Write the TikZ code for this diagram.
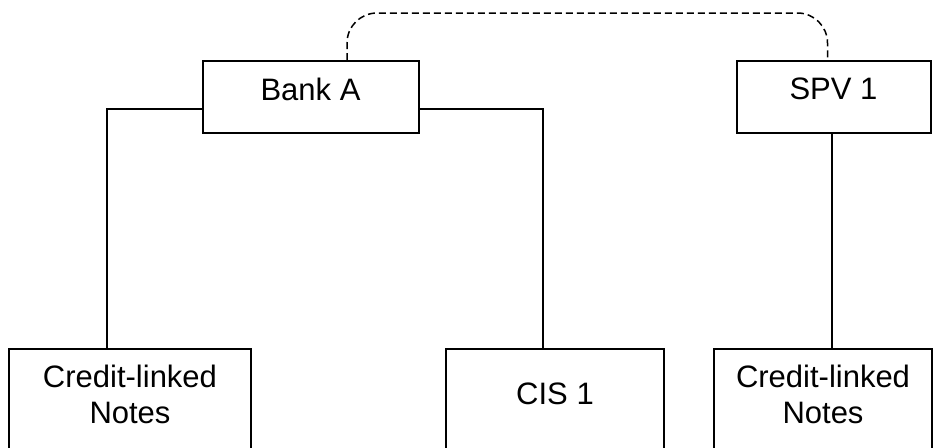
\documentclass[tikz,border=0pt]{standalone}
\usepackage{fontspec}
\setmainfont{Liberation Sans}
\usetikzlibrary{positioning}

\begin{document}
\begin{tikzpicture}[
  x=1pt, y=-1pt,
  box/.style={rectangle, draw, line width=2pt, align=center,
              inner sep=2pt, font=\fontsize{31}{36}\selectfont},
  top/.style={box, minimum height=72pt, text depth=16pt},
  low/.style={box, minimum height=100pt, text depth=10pt},
  link/.style={line width=2pt},
  tie/.style={line width=1.5pt, dash pattern=on 7pt off 4pt,
              rounded corners=30pt}]
\useasboundingbox (0,0) rectangle (934,447);
\clip (0,0) rectangle (934,447);
% top row
\node[top, minimum width=216pt] (bankA) at (310.5,97) {Bank A};
\node[top, minimum width=194pt, right=316pt of bankA] (spv1) {SPV 1};
% bottom row (cut off by the page edge)
\node[low, minimum width=242pt] (cln1) at (130,399) {Credit-linked\\ Notes};
\node[low, minimum width=218pt, right=193pt of cln1] (cis1) {CIS 1};
\node[low, minimum width=218pt, right=48pt of cis1] (cln2) {Credit-linked\\ Notes};
\coordinate (arc) at (589,13);
\draw[link] ([yshift=-12pt]bankA.west) -| ([xshift=-23pt]cln1.north);
\draw[link] ([yshift=-12pt]bankA.east) -| ([xshift=-12pt]cis1.north);
\draw[link] ([xshift=-1.5pt]spv1.south) -- ([xshift=-1.5pt]spv1.south |- cln2.north);
\draw[tie] ([xshift=36.5pt]bankA.north) |- (arc) -| ([xshift=-6pt]spv1.north);
\end{tikzpicture}
\end{document}
